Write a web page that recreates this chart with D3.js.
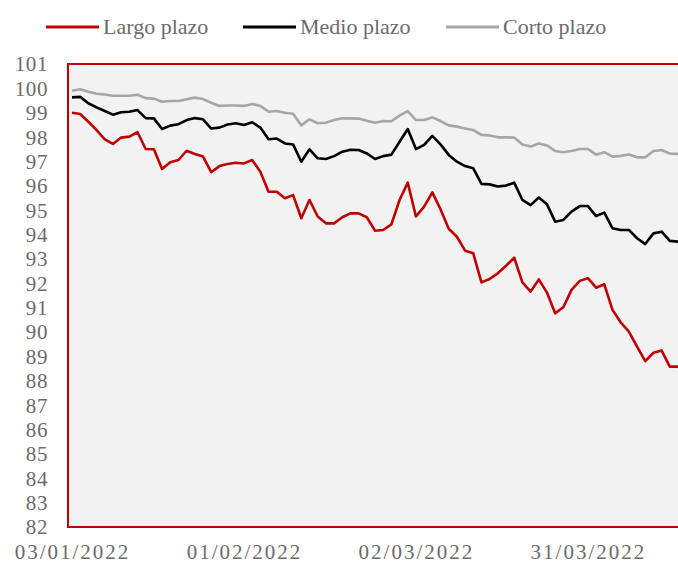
<!DOCTYPE html>
<html>
<head>
<meta charset="utf-8">
<script src="https://cdn.jsdelivr.net/npm/d3@7"></script>
<style>
  html, body { margin: 0; padding: 0; background: #fff; }
  svg { display: block; }
  text { font-family: "Liberation Serif", serif; fill: #6b6b6b; }
</style>
</head>
<body>
<svg id="chart" width="678" height="564"></svg>
<script>
// ---- Data ----
const seriesNames = ["Largo plazo", "Medio plazo", "Corto plazo"];
const seriesColors = ["#C00000", "#000000", "#A6A6A6"];

const largo = [99.00,98.95,98.63,98.29,97.91,97.72,97.98,98.02,98.20,97.51,97.50,96.69,96.97,97.06,97.44,97.31,97.20,96.56,96.81,96.90,
  96.95,96.92,97.06,96.58,95.76,95.76,95.49,95.62,94.67,95.42,94.74,94.46,94.46,94.71,94.87,94.87,94.71,94.16,94.19,94.42,
  95.42,96.13,94.74,95.15,95.73,95.04,94.24,93.91,93.34,93.23,92.04,92.18,92.41,92.72,93.05,92.04,91.66,92.16,91.62,90.77,
  91.02,91.73,92.10,92.21,91.82,91.96,90.91,90.40,90.02,89.40,88.81,89.15,89.24,88.58,88.58,88.20];
const medio = [99.63,99.65,99.39,99.22,99.07,98.92,99.02,99.04,99.11,98.78,98.77,98.33,98.47,98.53,98.70,98.78,98.73,98.35,98.39,98.52,
  98.57,98.50,98.61,98.39,97.91,97.94,97.74,97.70,96.99,97.50,97.13,97.10,97.22,97.40,97.48,97.47,97.33,97.10,97.22,97.28,
  97.81,98.33,97.51,97.68,98.05,97.70,97.27,96.99,96.81,96.72,96.08,96.06,95.97,96.01,96.13,95.42,95.21,95.52,95.24,94.53,
  94.60,94.94,95.17,95.17,94.76,94.90,94.26,94.19,94.19,93.85,93.61,94.05,94.12,93.74,93.71,93.60];
const corto = [99.90,99.96,99.86,99.78,99.75,99.70,99.70,99.70,99.74,99.60,99.58,99.45,99.48,99.48,99.55,99.62,99.56,99.41,99.28,99.30,
  99.30,99.28,99.36,99.28,99.04,99.07,99.00,98.96,98.48,98.73,98.57,98.59,98.70,98.77,98.77,98.76,98.67,98.59,98.66,98.65,
  98.88,99.07,98.70,98.70,98.81,98.66,98.48,98.43,98.35,98.29,98.09,98.07,97.99,97.99,97.98,97.70,97.61,97.74,97.66,97.43,
  97.38,97.43,97.51,97.51,97.28,97.38,97.20,97.23,97.29,97.17,97.17,97.43,97.47,97.32,97.31,97.30];

const xTickIndex = [0, 21, 42, 63];
const xTickLabels = ["03/01/2022", "01/02/2022", "02/03/2022", "31/03/2022"];
const yTicks = [82,83,84,85,86,87,88,89,90,91,92,93,94,95,96,97,98,99,100,101];

// ---- Layout ----
const svg = d3.select("#chart");
const plot = { left: 68, top: 64, right: 700, bottom: 527 };

const x = d3.scaleLinear().domain([0, 74]).range([72, 678]);
const y = d3.scaleLinear().domain([82, 101]).range([plot.bottom, plot.top]);

// plot background
svg.append("rect")
  .attr("x", plot.left).attr("y", plot.top)
  .attr("width", plot.right - plot.left).attr("height", plot.bottom - plot.top)
  .attr("fill", "#F2F2F2");

// lines
const series = [largo, medio, corto];
const line = d3.line().x((d, i) => x(i)).y(d => y(d));
[2, 1, 0].forEach(k => {
  svg.append("path")
    .datum(series[k])
    .attr("fill", "none")
    .attr("stroke", seriesColors[k])
    .attr("stroke-width", 2.6)
    .attr("stroke-linejoin", "round")
    .attr("d", line);
});

// border (left, top, bottom)
svg.append("path")
  .attr("d", `M${plot.right},${plot.top}H${plot.left}V${plot.bottom}H${plot.right}`)
  .attr("fill", "none").attr("stroke", "#C00000").attr("stroke-width", 2);

// y axis labels
const yAxis = d3.axisLeft(y).tickValues(yTicks).tickSize(0).tickPadding(0).tickFormat(d3.format("d"));
const gy = svg.append("g").attr("transform", "translate(48,0)").call(yAxis);
gy.select(".domain").remove();
gy.selectAll("text")
  .style("font-family", "'Liberation Serif', serif")
  .style("font-size", "21px").style("fill", "#6b6b6b")
  .style("letter-spacing", "0.6px")
  .attr("dy", "0.33em");

// x axis labels
const xAxis = d3.axisBottom(x).tickValues(xTickIndex).tickSize(0).tickPadding(0)
  .tickFormat((d, i) => xTickLabels[i]);
const gx = svg.append("g").attr("transform", "translate(0,544)").call(xAxis);
gx.select(".domain").remove();
gx.selectAll("text")
  .style("font-family", "'Liberation Serif', serif")
  .style("font-size", "21px").style("fill", "#6b6b6b")
  .style("letter-spacing", "2px")
  .attr("dy", "0.71em");

// legend
const legendPos = [46, 243, 446];
const lg = svg.append("g");
seriesNames.forEach((name, k) => {
  const g = lg.append("g").attr("transform", `translate(${legendPos[k]},27)`);
  g.append("line").attr("x1", 0).attr("x2", 53).attr("y1", 0).attr("y2", 0)
    .attr("stroke", seriesColors[k]).attr("stroke-width", 3);
  g.append("text").attr("x", 57).attr("y", 7)
    .style("font-size", "22px").text(name);
});
</script>
</body>
</html>
